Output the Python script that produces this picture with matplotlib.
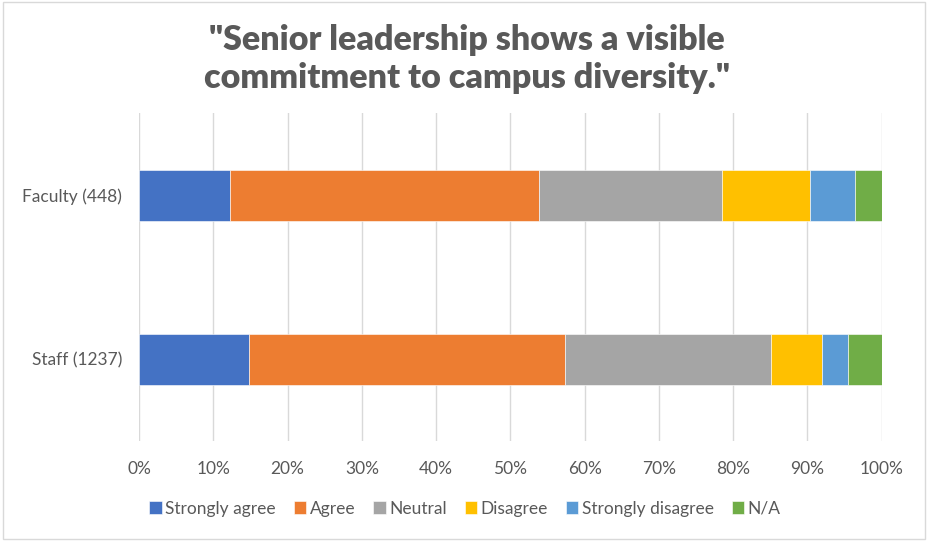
import matplotlib
matplotlib.use("Agg")
import matplotlib.pyplot as plt
from matplotlib.patches import Rectangle

categories = ["Staff (1237)", "Faculty (448)"]
series = ["Strongly agree", "Agree", "Neutral", "Disagree", "Strongly disagree", "N/A"]
# values in %, order matches categories (Staff, Faculty)
strongly_agree = [14.8, 12.2]
agree = [42.5, 41.6]
neutral = [27.8, 24.7]
disagree = [6.9, 11.8]
strongly_disagree = [3.5, 6.1]
na = [4.5, 3.6]
values = [strongly_agree, agree, neutral, disagree, strongly_disagree, na]
colors = ["#4472C4", "#ED7D31", "#A5A5A5", "#FFC000", "#5B9BD5", "#70AD47"]
xtick_labels = ["0%", "10%", "20%", "30%", "40%", "50%", "60%", "70%", "80%", "90%", "100%"]

fig = plt.figure(figsize=(9.3, 5.41), dpi=100)
ax = fig.add_axes([0.1495, 0.184, 0.7985, 0.607])

left = [0.0] * len(categories)
handles = []
for name, vals, c in zip(series, values, colors):
    h = ax.barh(range(len(categories)), vals, left=left, height=0.31, color=c,
                label=name, edgecolor="white", linewidth=0.4)
    handles.append(h)
    left = [l + v for l, v in zip(left, vals)]

ax.set_xlim(0, 100)
ax.set_ylim(-0.5, 1.5)
ax.set_xticks(range(0, 101, 10))
ax.set_xticklabels(xtick_labels, fontsize=12.5, color="#595959", family="Lato")
ax.set_yticks(range(len(categories)))
ax.set_yticklabels(categories, fontsize=12.5, color="#595959", family="Lato")
ax.tick_params(length=0, pad=12)
ax.tick_params(axis="x", pad=14)
ax.grid(axis="x", color="#D9D9D9", linewidth=1.0)
ax.set_axisbelow(True)
for s in ax.spines.values():
    s.set_visible(False)

fig.suptitle("\"Senior leadership shows a visible\ncommitment to campus diversity.\"",
             x=0.502, y=0.955, fontsize=24.5, fontweight="heavy", color="#595959",
             family="Lato", linespacing=1.2)

leg = fig.legend(handles=handles, labels=series, loc="center", bbox_to_anchor=(0.500, 0.06),
                 ncol=6, frameon=False, handlelength=0.7, handleheight=0.7,
                 handletextpad=0.2, columnspacing=1.05,
                 prop={"family": "Lato", "size": 12.5})
for t in leg.get_texts():
    t.set_color("#595959")

fig.patches.append(Rectangle((0.003, 0.004), 0.992, 0.992, transform=fig.transFigure,
                             fill=False, edgecolor="#D9D9D9", linewidth=1.0))

fig.savefig("out.png", dpi=100)
